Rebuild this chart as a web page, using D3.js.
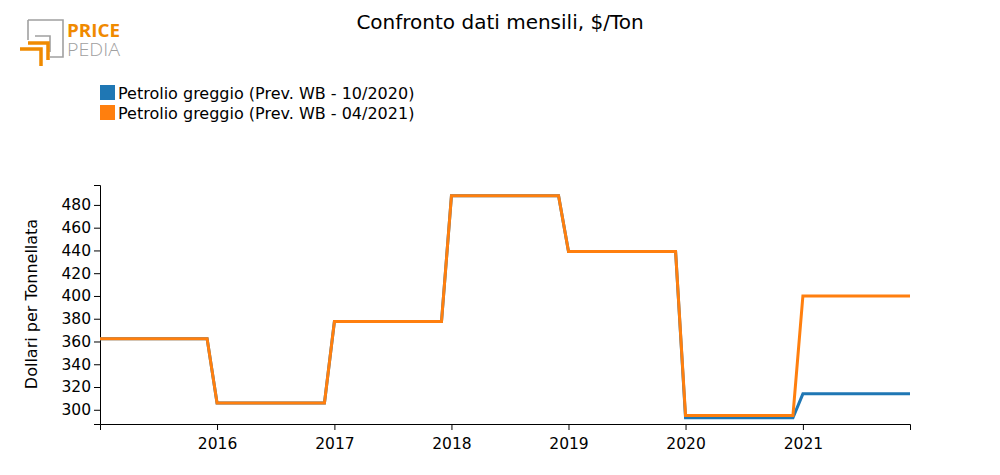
<!DOCTYPE html>
<html><head><meta charset="utf-8">
<script src="https://cdn.jsdelivr.net/npm/d3@7"></script>
<style>body{margin:0;background:#fff;font-family:"DejaVu Sans",sans-serif;}</style>
</head><body><svg id="c" width="1000" height="475"></svg>
<script>
const years = [2015, 2016, 2017, 2018, 2019, 2020, 2021];
const seriesNames = ["Petrolio greggio (Prev. WB - 10/2020)", "Petrolio greggio (Prev. WB - 04/2021)"];
const annualWB1020 = [362.5, 306, 377.5, 488, 439, 293, 314];
const annualWB0421 = [362.5, 306, 377.5, 488, 439, 295, 400];
const colors = ["#1f77b4", "#ff7f0e"];
const yTicks = [300, 320, 340, 360, 380, 400, 420, 440, 460, 480];
const xTickYears = [2016, 2017, 2018, 2019, 2020, 2021];

function monthly(annual){
  const out=[];
  years.forEach((y,i)=>{for(let m=0;m<12;m++) out.push({d:new Date(y,m,1), v:annual[i]});});
  return out;
}
const data=[monthly(annualWB1020), monthly(annualWB0421)];

const svg=d3.select("#c");
const x=d3.scaleTime().domain([new Date(2015,0,1), new Date(2021,11,1)]).range([100,910]);
const y=d3.scaleLinear().domain([287.5,497.5]).range([424,185]);

svg.append("text").attr("x",500).attr("y",29).attr("text-anchor","middle")
  .attr("font-size",20).attr("fill","#000").text("Confronto dati mensili, $/Ton");

// logo
const lg=svg.append("g");
lg.append("path").attr("d","M28,20H63V57H50").attr("fill","none").attr("stroke","#a0a0a0").attr("stroke-width",1.6);
lg.append("path").attr("d","M28,20V40").attr("fill","none").attr("stroke","#a0a0a0").attr("stroke-width",1.6);
lg.append("path").attr("d","M35,36H50V52").attr("fill","none").attr("stroke","#a0a0a0").attr("stroke-width",1.6);
lg.append("path").attr("d","M28,43H48V60").attr("fill","none").attr("stroke","#f08a00").attr("stroke-width",3.5);
lg.append("path").attr("d","M20,49H41V66").attr("fill","none").attr("stroke","#f08a00").attr("stroke-width",3.5);
lg.append("text").attr("x",67).attr("y",37).attr("font-size",18).attr("font-weight","bold")
  .attr("fill","#f08a00").attr("font-family","'Open Sans',sans-serif")
  .attr("textLength",53).attr("lengthAdjust","spacingAndGlyphs").text("PRICE");
lg.append("text").attr("x",67).attr("y",56).attr("font-size",18).attr("font-weight",300)
  .attr("fill","#a0a0a0").attr("font-family","'Open Sans',sans-serif")
  .attr("textLength",53).attr("lengthAdjust","spacingAndGlyphs").text("PEDIA");

// legend
seriesNames.forEach((n,i)=>{
  svg.append("rect").attr("x",100).attr("y",85+i*20).attr("width",15).attr("height",15).attr("fill",colors[i]);
  svg.append("text").attr("x",118).attr("y",99+i*20).attr("font-size",16).text(n);
});

// axes
const xAxis=d3.axisBottom(x).tickValues(xTickYears.map(v=>new Date(v,0,1))).tickFormat(d3.timeFormat("%Y"));
const gx=svg.append("g").attr("transform","translate(0,424)").call(xAxis);
gx.selectAll("text").attr("font-size",15.5).attr("font-family","DejaVu Sans").attr("dy","1em");
const yAxis=d3.axisLeft(y).tickValues(yTicks);
const gy=svg.append("g").attr("transform","translate(100,0)").call(yAxis);
gy.selectAll("text").attr("font-size",15.5).attr("font-family","DejaVu Sans");
svg.selectAll(".domain, .tick line").attr("stroke","#000");

svg.append("text").attr("transform","translate(37,304) rotate(-90)").attr("text-anchor","middle")
  .attr("font-size",16).text("Dollari per Tonnellata");

const line=d3.line().x(d=>x(d.d)).y(d=>y(d.v));
data.forEach((s,i)=>{
  svg.append("path").datum(s).attr("d",line).attr("fill","none").attr("stroke",colors[i]).attr("stroke-width",3);
});
</script></body></html>
